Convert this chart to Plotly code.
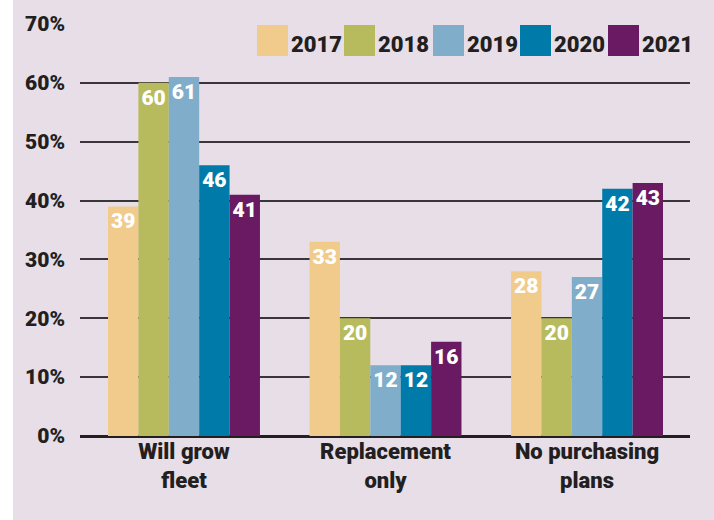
import plotly.graph_objects as go

categories = ["Will grow<br>fleet", "Replacement<br>only", "No purchasing<br>plans"]
years = ["2017", "2018", "2019", "2020", "2021"]
values = {
    "2017": [39, 33, 28],
    "2018": [60, 20, 20],
    "2019": [61, 12, 27],
    "2020": [46, 12, 42],
    "2021": [41, 16, 43],
}
colors = ["#f0cb8c", "#b8bb5d", "#80adca", "#007ba9", "#6a1a62"]
yticks = [0, 10, 20, 30, 40, 50, 60, 70]

FONT = "Roboto, DejaVu Sans, sans-serif"
WT = 900
BG = "#e7dee8"
W, H = 714, 520
ML, MR, MT, MB = 80, 24, 24, 84
PW, PH = W - ML - MR, H - MT - MB

fig = go.Figure()
for y, c in zip(years, colors):
    fig.add_trace(go.Bar(
        x=categories, y=values[y], name=y, marker=dict(color=c, line=dict(width=0)),
        text=[str(v) for v in values[y]], textposition="inside", insidetextanchor="end",
        textfont=dict(family=FONT, size=21, color="white", weight=WT),
        constraintext="none", textangle=0,
    ))

shapes = []
annotations = []
# white strip at left edge
shapes.append(dict(type="rect", xref="paper", yref="paper",
                   x0=-ML / PW, x1=-(ML - 13) / PW, y0=-MB / PH, y1=(PH + MT) / PH,
                   fillcolor="white", line=dict(width=0), layer="below"))
# custom legend
leg_x = [257, 344, 433, 520, 608]
for lx, y, c in zip(leg_x, years, colors):
    x0 = (lx - ML) / PW
    x1 = (lx + 31 - ML) / PW
    y1 = (H - MB - 25) / PH
    y0 = (H - MB - 56) / PH
    shapes.append(dict(type="rect", xref="paper", yref="paper", x0=x0, x1=x1, y0=y0, y1=y1,
                       fillcolor=c, line=dict(width=0), layer="above"))
    annotations.append(dict(xref="paper", yref="paper", x=x1 + 1 / PW, y=y0 - 3 / PH,
                            xanchor="left", yanchor="bottom", text=y, showarrow=False,
                            font=dict(family=FONT, size=22, color="#231f20", weight=WT)))

fig.update_layout(
    width=W, height=H,
    margin=dict(l=ML, r=MR, t=MT, b=MB),
    paper_bgcolor=BG, plot_bgcolor=BG,
    barmode="group", bargap=0.246, bargroupgap=0,
    showlegend=False,
    shapes=shapes, annotations=annotations,
    xaxis=dict(showgrid=False, ticks="", showline=False, range=[-0.516, 2.511],
               tickfont=dict(family=FONT, size=22, color="#231f20", weight=WT)),
    yaxis=dict(range=[0, 70], tickvals=yticks, ticktext=[f"{v}%" for v in yticks],
               showgrid=True, gridcolor="#3a3538", gridwidth=2,
               zeroline=True, zerolinecolor="#231f20", zerolinewidth=3,
               ticks="", ticklabelstandoff=14,
               tickfont=dict(family=FONT, size=21, color="#231f20", weight=WT)),
)
fig.write_html("out.html")
